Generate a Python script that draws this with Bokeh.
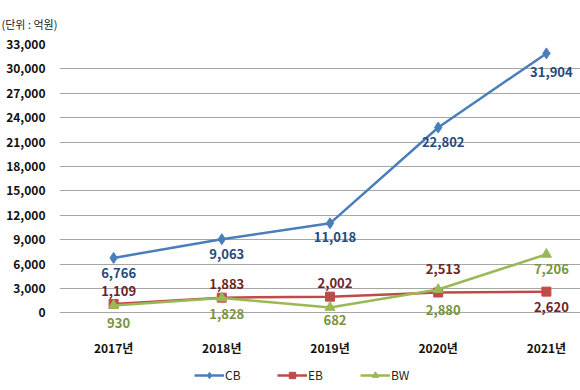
from bokeh.plotting import figure
from bokeh.models import Range1d, FixedTicker, Legend, LegendItem, ColumnDataSource, NumeralTickFormatter
from bokeh.embed import file_html
from bokeh.resources import INLINE
from bokeh.core.properties import value

years = ["2017년", "2018년", "2019년", "2020년", "2021년"]
cb = [6766, 9063, 11018, 22802, 31904]
eb = [1109, 1883, 2002, 2513, 2620]
bw = [930, 1828, 682, 2880, 7206]
y_ticks = [0, 3000, 6000, 9000, 12000, 15000, 18000, 21000, 24000, 27000, 30000, 33000]

# label placement (styling): pixel offsets for data labels
cb_dy = [15, 15, 14, 15, 19]
eb_dy = [-13, -14, -14, -24, 15]
bw_dy = [18, 16, 13, 20, 15]

FONT = "Noto Sans CJK KR"
x = list(range(len(years)))

PX = 33000 / 270.0  # data units per pixel on the value axis

p = figure(width=580, height=390, output_backend="svg", toolbar_location=None,
           x_range=Range1d(-0.5, -0.5 + 521 / 108.2),
           y_range=Range1d(-78 * PX, 33000),
           min_border_left=59, min_border_right=0, min_border_top=42, min_border_bottom=0)
p.outline_line_color = None
p.background_fill_color = "white"
p.border_fill_color = "white"

p.title.text = "(단위 : 억원)"
p.title.text_font = FONT
p.title.text_font_size = "11px"
p.title.text_font_style = "normal"
p.title.text_color = "#222222"
p.title.align = "left"
p.title.offset = -58
p.title.standoff = 26

# axes
p.yaxis.ticker = FixedTicker(ticks=y_ticks)
p.yaxis.formatter = NumeralTickFormatter(format="0,0")
p.yaxis.axis_line_color = None
p.yaxis.major_tick_line_color = None
p.yaxis.minor_tick_line_color = None
p.yaxis.major_tick_out = 0
p.yaxis.minor_tick_out = 0
p.yaxis.major_label_standoff = 14
p.yaxis.major_label_text_font = FONT
p.yaxis.major_label_text_font_size = "12px"
p.yaxis.major_label_text_font_style = "bold"
p.yaxis.major_label_text_color = "#111111"

p.xaxis.fixed_location = -23 * PX
p.xaxis.ticker = FixedTicker(ticks=x)
p.xaxis.major_label_overrides = {i: y for i, y in enumerate(years)}
p.xaxis.axis_line_color = None
p.xaxis.major_tick_line_color = None
p.xaxis.minor_tick_line_color = None
p.xaxis.major_tick_out = 0
p.xaxis.minor_tick_out = 0
p.xaxis.major_label_standoff = 3
p.xaxis.major_label_text_font = FONT
p.xaxis.major_label_text_font_size = "12px"
p.xaxis.major_label_text_font_style = "bold"
p.xaxis.major_label_text_color = "#111111"

p.xgrid.grid_line_color = None
p.ygrid.ticker = FixedTicker(ticks=y_ticks)
p.ygrid.grid_line_color = "#A6A6A6"
p.ygrid.grid_line_width = 1.2

series = [
    ("CB", cb, "#4A7EBB", "diamond", 11, "#254A7C", cb_dy),
    ("EB", eb, "#BE4B48", "square", 9, "#6B2525", eb_dy),
    ("BW", bw, "#98B954", "triangle", 10, "#77933C", bw_dy),
]

items = []
for name, vals, col, mk, size, lcol, dys in series:
    src = ColumnDataSource(dict(x=x, y=vals, lbl=[f"{v:,}" for v in vals], dy=dys))
    ln = p.line("x", "y", source=src, line_color=col, line_width=2.5)
    sc = p.scatter("x", "y", source=src, marker=mk, size=size, fill_color=col, line_color=col)
    p.text("x", "y", text="lbl", source=src, y_offset="dy", x_offset=5,
           text_align="center", text_baseline="middle",
           text_font=value(FONT), text_font_size="13px", text_font_style="bold",
           text_color=lcol)
    items.append(LegendItem(label=name, renderers=[ln, sc]))

legend = Legend(items=items, orientation="horizontal", location=(135, 7),
                glyph_width=30, glyph_height=16, label_height=16,
                label_standoff=1, spacing=32, padding=0, margin=0,
                border_line_color=None, background_fill_alpha=0,
                label_text_font=FONT, label_text_font_size="12px",
                label_text_color="#222222")
p.add_layout(legend, "center")

open("out.html", "w").write(file_html(p, INLINE))
